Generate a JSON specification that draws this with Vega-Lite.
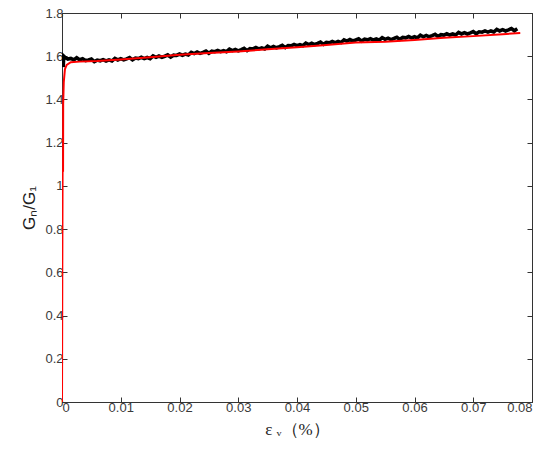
{
  "$schema": "https://vega.github.io/schema/vega-lite/v6.json",
  "width": 470,
  "height": 389,
  "autosize": "none",
  "padding": {"left": 62, "top": 13, "right": 18, "bottom": 52},
  "background": "white",
  "config": {
    "view": {"stroke": "#333", "strokeWidth": 1},
    "axis": {
      "grid": false,
      "domainColor": "#333",
      "tickColor": "#333",
      "tickSize": -5,
      "labelFont": "Liberation Sans",
      "labelFontSize": 13,
      "labelColor": "#3a3a3a",
      "labelPadding": 4,
      "titleFont": "Liberation Sans",
      "titleColor": "#222",
      "titleFontWeight": "normal"
    }
  },
  "datasets": {
    "exp": [
      {"x": 0.0002, "y": 1.55},
      {"x": 0.0003, "y": 1.600},
      {"x": 0.0005, "y": 1.595},
      {"x": 0.001, "y": 1.587},
      {"x": 0.0015, "y": 1.590},
      {"x": 0.002, "y": 1.583},
      {"x": 0.0025, "y": 1.593},
      {"x": 0.003, "y": 1.584},
      {"x": 0.0035, "y": 1.588},
      {"x": 0.004, "y": 1.580},
      {"x": 0.0045, "y": 1.583},
      {"x": 0.005, "y": 1.587},
      {"x": 0.0055, "y": 1.575},
      {"x": 0.006, "y": 1.582},
      {"x": 0.0065, "y": 1.579},
      {"x": 0.007, "y": 1.584},
      {"x": 0.0075, "y": 1.578},
      {"x": 0.008, "y": 1.583},
      {"x": 0.0085, "y": 1.578},
      {"x": 0.009, "y": 1.590},
      {"x": 0.0095, "y": 1.583},
      {"x": 0.010, "y": 1.589},
      {"x": 0.0105, "y": 1.583},
      {"x": 0.011, "y": 1.588},
      {"x": 0.0115, "y": 1.5935},
      {"x": 0.012, "y": 1.583},
      {"x": 0.0125, "y": 1.5915},
      {"x": 0.013, "y": 1.589},
      {"x": 0.0135, "y": 1.595},
      {"x": 0.014, "y": 1.589},
      {"x": 0.0145, "y": 1.594},
      {"x": 0.015, "y": 1.589},
      {"x": 0.0155, "y": 1.6015},
      {"x": 0.016, "y": 1.595},
      {"x": 0.0165, "y": 1.601},
      {"x": 0.017, "y": 1.595},
      {"x": 0.0175, "y": 1.600},
      {"x": 0.018, "y": 1.606},
      {"x": 0.0185, "y": 1.596},
      {"x": 0.019, "y": 1.605},
      {"x": 0.0195, "y": 1.6035},
      {"x": 0.020, "y": 1.610},
      {"x": 0.0205, "y": 1.6045},
      {"x": 0.021, "y": 1.610},
      {"x": 0.0215, "y": 1.6055},
      {"x": 0.022, "y": 1.618},
      {"x": 0.0225, "y": 1.612},
      {"x": 0.023, "y": 1.619},
      {"x": 0.0235, "y": 1.613},
      {"x": 0.024, "y": 1.618},
      {"x": 0.0245, "y": 1.624},
      {"x": 0.025, "y": 1.614},
      {"x": 0.0255, "y": 1.623},
      {"x": 0.026, "y": 1.621},
      {"x": 0.0265, "y": 1.627},
      {"x": 0.027, "y": 1.621},
      {"x": 0.0275, "y": 1.626},
      {"x": 0.028, "y": 1.621},
      {"x": 0.0285, "y": 1.633},
      {"x": 0.029, "y": 1.626},
      {"x": 0.0295, "y": 1.6315},
      {"x": 0.030, "y": 1.625},
      {"x": 0.0305, "y": 1.630},
      {"x": 0.031, "y": 1.636},
      {"x": 0.0315, "y": 1.626},
      {"x": 0.032, "y": 1.635},
      {"x": 0.0325, "y": 1.6335},
      {"x": 0.033, "y": 1.640},
      {"x": 0.0335, "y": 1.634},
      {"x": 0.034, "y": 1.639},
      {"x": 0.0345, "y": 1.634},
      {"x": 0.035, "y": 1.646},
      {"x": 0.0355, "y": 1.639},
      {"x": 0.036, "y": 1.645},
      {"x": 0.0365, "y": 1.639},
      {"x": 0.037, "y": 1.644},
      {"x": 0.0375, "y": 1.650},
      {"x": 0.038, "y": 1.640},
      {"x": 0.0385, "y": 1.6495},
      {"x": 0.039, "y": 1.648},
      {"x": 0.0395, "y": 1.6545},
      {"x": 0.040, "y": 1.649},
      {"x": 0.0405, "y": 1.654},
      {"x": 0.041, "y": 1.649},
      {"x": 0.0415, "y": 1.661},
      {"x": 0.042, "y": 1.654},
      {"x": 0.0425, "y": 1.660},
      {"x": 0.043, "y": 1.654},
      {"x": 0.0435, "y": 1.659},
      {"x": 0.044, "y": 1.665},
      {"x": 0.0445, "y": 1.655},
      {"x": 0.045, "y": 1.664},
      {"x": 0.0455, "y": 1.662},
      {"x": 0.046, "y": 1.668},
      {"x": 0.0465, "y": 1.6625},
      {"x": 0.047, "y": 1.668},
      {"x": 0.0475, "y": 1.6635},
      {"x": 0.048, "y": 1.676},
      {"x": 0.0485, "y": 1.670},
      {"x": 0.049, "y": 1.677},
      {"x": 0.0495, "y": 1.6705},
      {"x": 0.050, "y": 1.675},
      {"x": 0.0505, "y": 1.6805},
      {"x": 0.051, "y": 1.670},
      {"x": 0.0515, "y": 1.6785},
      {"x": 0.052, "y": 1.676},
      {"x": 0.0525, "y": 1.6815},
      {"x": 0.053, "y": 1.675},
      {"x": 0.0535, "y": 1.6795},
      {"x": 0.054, "y": 1.674},
      {"x": 0.0545, "y": 1.6855},
      {"x": 0.055, "y": 1.678},
      {"x": 0.0555, "y": 1.6835},
      {"x": 0.056, "y": 1.677},
      {"x": 0.0565, "y": 1.682},
      {"x": 0.057, "y": 1.688},
      {"x": 0.0575, "y": 1.678},
      {"x": 0.058, "y": 1.687},
      {"x": 0.0585, "y": 1.685},
      {"x": 0.059, "y": 1.691},
      {"x": 0.0595, "y": 1.685},
      {"x": 0.060, "y": 1.690},
      {"x": 0.0605, "y": 1.685},
      {"x": 0.061, "y": 1.697},
      {"x": 0.0615, "y": 1.690},
      {"x": 0.062, "y": 1.696},
      {"x": 0.0625, "y": 1.690},
      {"x": 0.063, "y": 1.695},
      {"x": 0.0635, "y": 1.701},
      {"x": 0.064, "y": 1.691},
      {"x": 0.0645, "y": 1.700},
      {"x": 0.065, "y": 1.698},
      {"x": 0.0655, "y": 1.704},
      {"x": 0.066, "y": 1.698},
      {"x": 0.0665, "y": 1.703},
      {"x": 0.067, "y": 1.698},
      {"x": 0.0675, "y": 1.710},
      {"x": 0.068, "y": 1.703},
      {"x": 0.0685, "y": 1.709},
      {"x": 0.069, "y": 1.703},
      {"x": 0.0695, "y": 1.708},
      {"x": 0.070, "y": 1.714},
      {"x": 0.0705, "y": 1.704},
      {"x": 0.071, "y": 1.713},
      {"x": 0.0715, "y": 1.711},
      {"x": 0.072, "y": 1.717},
      {"x": 0.0725, "y": 1.7115},
      {"x": 0.073, "y": 1.717},
      {"x": 0.0735, "y": 1.712},
      {"x": 0.074, "y": 1.724},
      {"x": 0.0745, "y": 1.717},
      {"x": 0.075, "y": 1.723},
      {"x": 0.0755, "y": 1.717},
      {"x": 0.076, "y": 1.722},
      {"x": 0.0765, "y": 1.728},
      {"x": 0.077, "y": 1.718},
      {"x": 0.0775, "y": 1.727}
    ],
    "fit": [
      {"x": 0, "y": 0},
      {"x": 0.00005, "y": 0.6},
      {"x": 0.0001, "y": 1.07},
      {"x": 0.00018, "y": 1.07},
      {"x": 0.0002, "y": 1.38},
      {"x": 0.0003, "y": 1.48},
      {"x": 0.0005, "y": 1.54},
      {"x": 0.0008, "y": 1.56},
      {"x": 0.0015, "y": 1.572},
      {"x": 0.003, "y": 1.575},
      {"x": 0.006, "y": 1.578},
      {"x": 0.01, "y": 1.585},
      {"x": 0.015, "y": 1.595},
      {"x": 0.02, "y": 1.607},
      {"x": 0.025, "y": 1.615},
      {"x": 0.03, "y": 1.622},
      {"x": 0.035, "y": 1.632},
      {"x": 0.04, "y": 1.641},
      {"x": 0.045, "y": 1.652},
      {"x": 0.05, "y": 1.663},
      {"x": 0.055, "y": 1.667},
      {"x": 0.06, "y": 1.675},
      {"x": 0.065, "y": 1.685},
      {"x": 0.07, "y": 1.693},
      {"x": 0.075, "y": 1.702},
      {"x": 0.078, "y": 1.708}
    ]
  },
  "layer": [
    {
      "data": {"name": "exp"},
      "mark": {"type": "line", "color": "black", "strokeWidth": 3.6, "clip": true},
      "encoding": {
        "x": {
          "field": "x", "type": "quantitative",
          "scale": {"domain": [0, 0.08], "nice": false, "zero": false},
          "axis": {
            "values": [0, 0.01, 0.02, 0.03, 0.04, 0.05, 0.06, 0.07, 0.08],
            "format": "~g",
            "title": "ε ᵥ（%）",
            "titleFont": "Liberation Serif",
            "titleFontSize": 17,
            "titlePadding": 7
          }
        },
        "y": {
          "field": "y", "type": "quantitative",
          "scale": {"domain": [0, 1.8], "nice": false, "zero": false},
          "axis": {
            "values": [0, 0.2, 0.4, 0.6, 0.8, 1, 1.2, 1.4, 1.6, 1.8],
            "format": "~g",
            "title": "Gₙ/G₁",
            "titleFontSize": 17,
            "titlePadding": 6
          }
        }
      }
    },
    {
      "data": {"name": "fit"},
      "mark": {"type": "line", "color": "#ff0000", "strokeWidth": 2, "clip": true},
      "encoding": {
        "x": {
          "field": "x", "type": "quantitative",
          "axis": {
            "orient": "top",
            "values": [0, 0.01, 0.02, 0.03, 0.04, 0.05, 0.06, 0.07, 0.08],
            "labels": false,
            "title": null
          }
        },
        "y": {
          "field": "y", "type": "quantitative",
          "axis": {
            "orient": "right",
            "values": [0, 0.2, 0.4, 0.6, 0.8, 1, 1.2, 1.4, 1.6, 1.8],
            "labels": false,
            "title": null
          }
        }
      }
    }
  ],
  "resolve": {"axis": {"x": "independent", "y": "independent"}}
}
